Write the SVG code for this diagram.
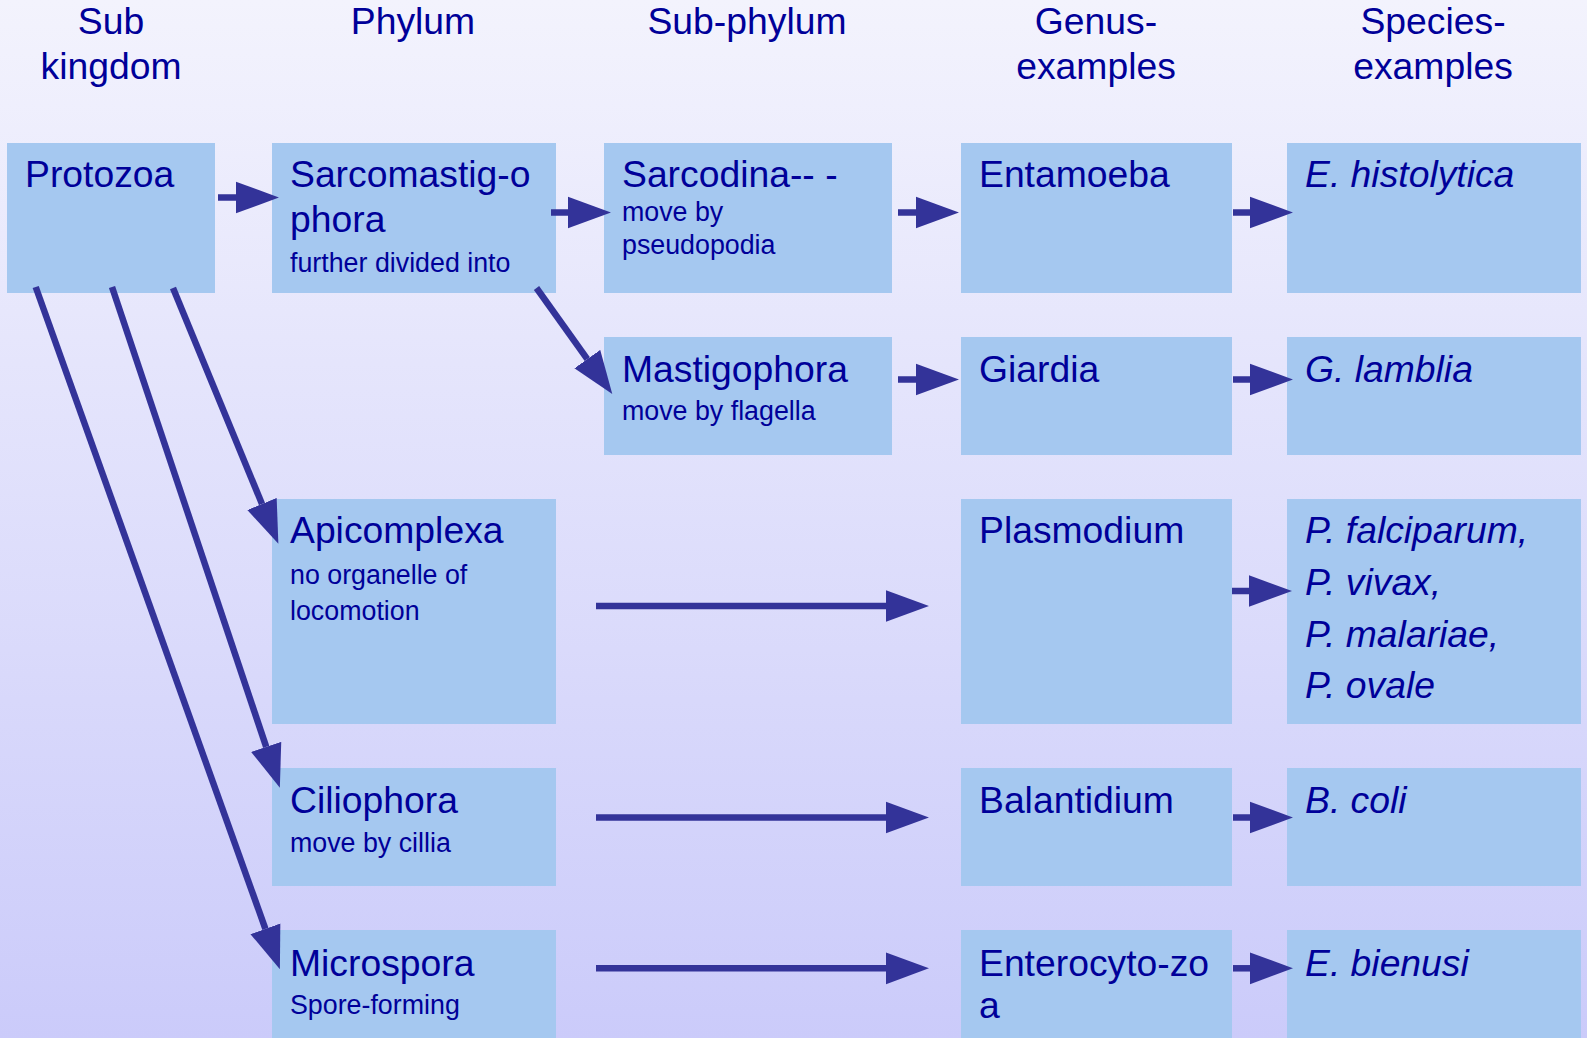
<svg xmlns="http://www.w3.org/2000/svg" width="1587" height="1038" viewBox="0 0 1587 1038">
  <defs>
    <linearGradient id="bg" x1="0" y1="0" x2="0" y2="1">
      <stop offset="0" stop-color="#F3F3FD"/>
      <stop offset="1" stop-color="#CBCBFA"/>
    </linearGradient>
    <marker id="head" markerUnits="userSpaceOnUse" markerWidth="44" markerHeight="34" viewBox="0 -16 43 32" refX="0" refY="0" orient="auto">
      <path d="M0,-15.5 L42,0 L0,15.5 Z" fill="#333399"/>
    </marker>
    <style>
      .box { fill: #A5C8F0; }
      .hdr { font-family: "Liberation Sans", Arial, sans-serif; font-size: 37.3px; fill: #000099; text-anchor: middle; }
      .t { font-family: "Liberation Sans", Arial, sans-serif; font-size: 37.3px; fill: #000099; }
      .s { font-family: "Liberation Sans", Arial, sans-serif; font-size: 26.8px; fill: #000099; }
      .i { font-style: italic; }
      .c { stroke: #333399; stroke-width: 6.5; fill: none; marker-end: url(#head); }
    </style>
  </defs>
  <rect x="0" y="0" width="1587" height="1038" fill="url(#bg)"/>

  <g id="headers">
    <text class="hdr" x="111" y="34">Sub</text>
    <text class="hdr" x="111" y="79">kingdom</text>
    <text class="hdr" x="413" y="34">Phylum</text>
    <text class="hdr" x="747" y="34">Sub-phylum</text>
    <text class="hdr" x="1096" y="34">Genus-</text>
    <text class="hdr" x="1096" y="79">examples</text>
    <text class="hdr" x="1433" y="34">Species-</text>
    <text class="hdr" x="1433" y="79">examples</text>
  </g>

  <g id="protozoa">
    <rect class="box" x="7" y="143" width="208" height="150"/>
    <text class="t" x="25" y="186.5">Protozoa</text>
  </g>
  <g id="sarcomastigophora">
    <rect class="box" x="272" y="143" width="284" height="150"/>
    <text class="t" x="290" y="186.5">Sarcomastig-o</text>
    <text class="t" x="290" y="231.5">phora</text>
    <text class="s" x="290" y="272">further divided into</text>
  </g>
  <g id="sarcodina">
    <rect class="box" x="604" y="143" width="288" height="150"/>
    <text class="t" x="622" y="186.5">Sarcodina-- -</text>
    <text class="s" x="622" y="221">move by</text>
    <text class="s" x="622" y="254">pseudopodia</text>
  </g>
  <g id="entamoeba">
    <rect class="box" x="961" y="143" width="271" height="150"/>
    <text class="t" x="979" y="186.5">Entamoeba</text>
  </g>
  <g id="e-histolytica">
    <rect class="box" x="1287" y="143" width="294" height="150"/>
    <text class="t i" x="1305" y="186.5">E. histolytica</text>
  </g>

  <g id="mastigophora">
    <rect class="box" x="604" y="337" width="288" height="118"/>
    <text class="t" x="622" y="381.5">Mastigophora</text>
    <text class="s" x="622" y="420">move by flagella</text>
  </g>
  <g id="giardia">
    <rect class="box" x="961" y="337" width="271" height="118"/>
    <text class="t" x="979" y="381.5">Giardia</text>
  </g>
  <g id="g-lamblia">
    <rect class="box" x="1287" y="337" width="294" height="118"/>
    <text class="t i" x="1305" y="381.5">G. lamblia</text>
  </g>

  <g id="apicomplexa">
    <rect class="box" x="272" y="499" width="284" height="225"/>
    <text class="t" x="290" y="543">Apicomplexa</text>
    <text class="s" x="290" y="583.5">no organelle of</text>
    <text class="s" x="290" y="620">locomotion</text>
  </g>
  <g id="plasmodium">
    <rect class="box" x="961" y="499" width="271" height="225"/>
    <text class="t" x="979" y="543">Plasmodium</text>
  </g>
  <g id="p-species">
    <rect class="box" x="1287" y="499" width="294" height="225"/>
    <text class="t i" x="1305" y="543">P. falciparum,</text>
    <text class="t i" x="1305" y="595">P. vivax,</text>
    <text class="t i" x="1305" y="646.5">P. malariae,</text>
    <text class="t i" x="1305" y="698">P. ovale</text>
  </g>

  <g id="ciliophora">
    <rect class="box" x="272" y="768" width="284" height="118"/>
    <text class="t" x="290" y="813">Ciliophora</text>
    <text class="s" x="290" y="852">move by cillia</text>
  </g>
  <g id="balantidium">
    <rect class="box" x="961" y="768" width="271" height="118"/>
    <text class="t" x="979" y="813">Balantidium</text>
  </g>
  <g id="b-coli">
    <rect class="box" x="1287" y="768" width="294" height="118"/>
    <text class="t i" x="1305" y="813">B. coli</text>
  </g>

  <g id="microspora">
    <rect class="box" x="272" y="930" width="284" height="118"/>
    <text class="t" x="290" y="976">Microspora</text>
    <text class="s" x="290" y="1014">Spore-forming</text>
  </g>
  <g id="enterocytozoa">
    <rect class="box" x="961" y="930" width="271" height="118"/>
    <text class="t" x="979" y="976">Enterocyto-zo</text>
    <text class="t" x="979" y="1018">a</text>
  </g>
  <g id="e-bienusi">
    <rect class="box" x="1287" y="930" width="294" height="118"/>
    <text class="t i" x="1305" y="976">E. bienusi</text>
  </g>

  <g id="connectors">
    <line class="c" x1="218" y1="197.5" x2="236" y2="197.5"/>
    <line class="c" x1="551" y1="212.5" x2="568" y2="212.5"/>
    <line class="c" x1="898" y1="212.5" x2="916" y2="212.5"/>
    <line class="c" x1="1233" y1="212.5" x2="1250" y2="212.5"/>
    <line class="c" x1="898" y1="379.5" x2="916" y2="379.5"/>
    <line class="c" x1="1233" y1="379.5" x2="1250" y2="379.5"/>
    <line class="c" x1="596" y1="606" x2="886" y2="606"/>
    <line class="c" x1="1232" y1="591" x2="1249" y2="591"/>
    <line class="c" x1="596" y1="817.5" x2="886" y2="817.5"/>
    <line class="c" x1="1233" y1="817.5" x2="1250" y2="817.5"/>
    <line class="c" x1="596" y1="968.3" x2="886" y2="968.3"/>
    <line class="c" x1="1233" y1="968.3" x2="1250" y2="968.3"/>
    <line class="c" x1="173" y1="288" x2="262" y2="504"/>
    <line class="c" x1="112" y1="287" x2="266.2" y2="746.9"/>
    <line class="c" x1="35.7" y1="287" x2="265.4" y2="928.8"/>
    <line class="c" x1="536.5" y1="288" x2="587.3" y2="359.1"/>
  </g>
</svg>
